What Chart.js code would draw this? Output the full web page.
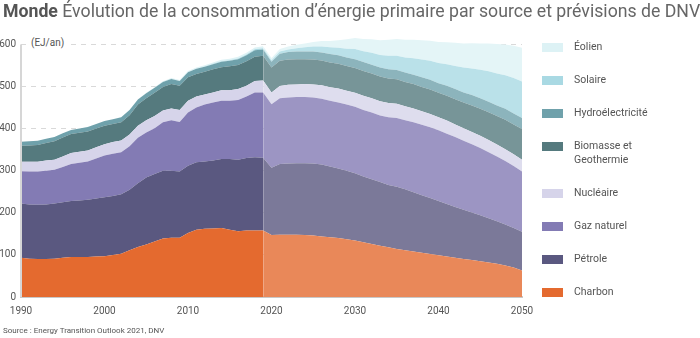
<!DOCTYPE html>
<html lang="fr">
<head>
<meta charset="utf-8">
<script src="https://cdn.jsdelivr.net/npm/chart.js@4/dist/chart.umd.min.js"></script>
<style>
  body { margin: 0; background: #fff; font-family: Roboto, "Noto Sans", sans-serif; color: #555; }
  #wrap { position: relative; width: 700px; height: 338px; overflow: hidden; }
  #chart { position: absolute; left: 0; top: 0; }
  .title { position: absolute; left: 3px; top: 0; font-size: 17.7px; line-height: 22px; color: #666; white-space: nowrap; }
  .title b { color: #555; font-weight: 700; }
  .unit { position: absolute; left: 29px; top: 36px; font-size: 10px; line-height: 14px; background: #fff; padding: 0 4px 0 2px; }
  .source { position: absolute; left: 3px; top: 326px; font-size: 8px; line-height: 10px; white-space: nowrap; }
  .swatch { position: absolute; left: 542px; width: 21px; height: 9px; }
  .label { position: absolute; left: 574px; width: 90px; font-size: 10.5px; line-height: 14px; }
</style>
</head>
<body>
<div id="wrap">
  <canvas id="chart" width="700" height="338"></canvas>
  <div class="title"><b>Monde</b> Évolution de la consommation d’énergie primaire par source et prévisions de DNV</div>
  <div class="unit">(EJ/an)</div>
  <div class="source">Source : Energy Transition Outlook 2021, DNV</div>
  <div id="legend"></div>
</div>
<script>
// années 1990-2050, historique jusqu'en 2019 puis prévisions
var years = [];
for (var y = 1990; y <= 2050; y++) years.push(y);
var lastHistoric = 2019;

var yTicks = [0, 100, 200, 300, 400, 500, 600];

// EJ par an
var charbon = [93, 91, 90, 90, 91, 93, 95, 95, 95, 96, 97, 100, 103, 111, 119, 125, 132, 139, 141, 141,
  152, 160, 162, 163, 164, 160, 156, 158, 158, 158,
  147, 148, 148, 148, 147, 146, 144, 142, 140, 137, 134, 130, 126, 122, 118,
  114, 111, 108, 105, 102, 99, 96, 93, 90, 88, 85, 82, 79, 75, 70, 63];
var petrole = [129, 129, 129, 130, 131, 132, 133, 134, 136, 138, 140, 140, 141, 144, 151, 159, 160, 161, 159, 157,
  160, 160, 160, 161, 164, 168, 170, 172, 174, 173,
  160, 168, 169, 170, 171, 171, 171, 168, 165, 163, 160, 156, 154, 151, 148,
  148, 145, 141, 137, 133, 129, 125, 121, 117, 113, 109, 105, 101, 97, 94, 92];
var gaz = [77, 78, 79, 80, 80, 84, 88, 90, 91, 95, 99, 100, 100, 103, 108, 107, 109, 115, 120, 118,
  126, 130, 135, 138, 138, 138, 142, 146, 154, 155,
  151, 156, 157, 157, 157, 157, 156, 156, 157, 157, 158, 158, 158, 158, 161,
  163, 164, 166, 167, 168, 168, 167, 166, 164, 162, 160, 157, 154, 151, 147, 143];
var nucleaire = [22, 23, 23, 24, 24, 25, 26, 26, 26, 27, 27, 28, 28, 28, 29, 29, 29, 28, 28, 28,
  28, 26, 24, 24, 25, 25, 26, 26, 27, 28,
  28, 29, 30, 30, 31, 31, 32, 32, 33, 33, 33, 34, 34, 34, 34,
  34, 33, 33, 32, 32, 31, 31, 30, 30, 29, 29, 29, 28, 28, 28, 28];
var biomasse = [38, 39, 40, 42, 44, 45, 45, 45, 45, 44, 44, 43, 43, 46, 50, 52, 55, 56, 58, 58,
  56, 54, 54, 55, 55, 57, 57, 58, 58, 59,
  59, 60, 60, 60, 59, 59, 59, 59, 59, 59, 59, 59, 59, 59, 58,
  58, 58, 58, 58, 58, 58, 59, 60, 61, 63, 64, 66, 68, 70, 71, 73];
var hydro = [10, 10, 10, 10, 10, 10, 10, 10, 11, 11, 11, 11, 12, 12, 12, 12, 12, 12, 12, 11,
  12, 12, 12, 12, 13, 13, 14, 14, 15, 15,
  14, 17, 18, 18, 18, 19, 19, 20, 20, 20, 21, 21, 21, 21, 22,
  22, 22, 22, 23, 23, 23, 24, 24, 24, 25, 25, 25, 25, 26, 26, 26];
var solaire = [0, 0, 0, 0, 0, 0, 0, 0, 0, 0, 0, 0, 0, 0, 0, 0.1, 0.1, 0.1, 0.2, 0.2,
  0.3, 0.5, 0.7, 0.9, 1.1, 1.4, 1.7, 2.1, 2.6, 3.0,
  3.5, 5, 6, 8, 10, 12, 14, 16, 18, 21, 24, 26, 28, 30, 32,
  34, 36, 39, 42, 45, 48, 51, 55, 59, 63, 68, 72, 76, 80, 84, 87];
var eolien = [0, 0, 0, 0, 0.1, 0.1, 0.1, 0.1, 0.2, 0.2, 0.3, 0.4, 0.5, 0.6, 0.8, 1.0, 1.2, 1.5, 1.8, 2.1,
  2.5, 2.8, 3.0, 3.2, 3.4, 3.6, 3.8, 4.0, 4.3, 4.6,
  5, 6, 7, 8, 9, 11, 13, 15, 18, 22, 26, 29, 32, 35, 38,
  40, 42, 44, 46, 48, 50, 52, 55, 57, 60, 62, 66, 70, 73, 77, 80];

// empilement du bas vers le haut
var names = ['Charbon', 'Pétrole', 'Gaz naturel', 'Nucléaire', 'Biomasse et Geothermie',
  'Hydroélectricité', 'Solaire', 'Éolien'];
var values = [charbon, petrole, gaz, nucleaire, biomasse, hydro, solaire, eolien];
var colors = ['#e46a2f', '#5a5880', '#837bb4', '#d6d4ea', '#557a7e', '#6fa1ab', '#a9d9e3', '#ddf2f5'];

// teinte éclaircie pour la partie prévisions
function lighten(hex, k) {
  var n = parseInt(hex.slice(1), 16);
  var r = (n >> 16) & 255, g = (n >> 8) & 255, b = n & 255;
  r = Math.round(r + (255 - r) * k);
  g = Math.round(g + (255 - g) * k);
  b = Math.round(b + (255 - b) * k);
  return 'rgb(' + r + ',' + g + ',' + b + ')';
}

var splitIndex = years.indexOf(lastHistoric);

var datasets = values.map(function (v, i) {
  var light = lighten(colors[i], 0.2);
  return {
    label: names[i],
    data: v,
    backgroundColor: colors[i],
    borderWidth: 0,
    pointRadius: 0,
    tension: 0,
    fill: i === 0 ? 'origin' : '-1',
    segment: {
      backgroundColor: function (ctx) { return ctx.p0DataIndex >= splitIndex ? light : undefined; }
    }
  };
});

// trait vertical de l'axe Y, de 0 à la dernière graduation
var yAxisLine = {
  id: 'yAxisLine',
  afterDatasetsDraw: function (chart) {
    var c = chart.ctx, ys = chart.scales.y, x = chart.chartArea.left;
    c.save();
    c.strokeStyle = '#d6d6d6';
    c.lineWidth = 2;
    c.beginPath();
    c.moveTo(x, ys.getPixelForValue(yTicks[yTicks.length - 1]));
    c.lineTo(x, ys.getPixelForValue(0));
    c.stroke();
    c.restore();
  }
};

var tickFont = { family: 'Roboto', size: 10 };

new Chart(document.getElementById('chart'), {
  type: 'line',
  data: { labels: years, datasets: datasets },
  plugins: [yAxisLine],
  options: {
    responsive: false,
    animation: false,
    events: [],
    layout: { padding: { top: 36, right: 178, bottom: 21, left: 0 } },
    plugins: { legend: { display: false }, tooltip: { enabled: false } },
    scales: {
      x: {
        z: 1,
        grid: { display: false, drawTicks: false },
        border: { color: '#c8c8c8', width: 2 },
        ticks: {
          autoSkip: false, maxRotation: 0, padding: 8, color: '#555', font: tickFont,
          callback: function (v, i) { return years[i] % 10 === 0 ? String(years[i]) : ''; }
        },
        afterFit: function (s) { s.height = 20; }
      },
      y: {
        z: 1,
        stacked: true,
        min: 0,
        max: 620,
        afterBuildTicks: function (s) { s.ticks = yTicks.map(function (v) { return { value: v }; }); },
        grid: {
          drawTicks: false,
          color: function (ctx) { return ctx.tick && ctx.tick.value === 0 ? 'rgba(0,0,0,0)' : 'rgba(180,180,180,0.5)'; }
        },
        border: { display: false, dash: [5, 5] },
        ticks: { padding: 5, color: '#555', font: tickFont },
        afterFit: function (s) { s.width = 21; }
      }
    }
  }
});

// légende à droite, de haut en bas
var legend = document.getElementById('legend');
for (var k = names.length - 1, row = 0; k >= 0; k--, row++) {
  var cy = 47 + row * 33 + (row >= 4 ? 14 : 0);
  var sw = document.createElement('div');
  sw.className = 'swatch';
  sw.style.top = (cy - 4.5) + 'px';
  sw.style.background = colors[k];
  legend.appendChild(sw);
  var lb = document.createElement('div');
  lb.className = 'label';
  lb.style.top = (cy - 7) + 'px';
  lb.textContent = names[k];
  legend.appendChild(lb);
}
</script>
</body>
</html>
